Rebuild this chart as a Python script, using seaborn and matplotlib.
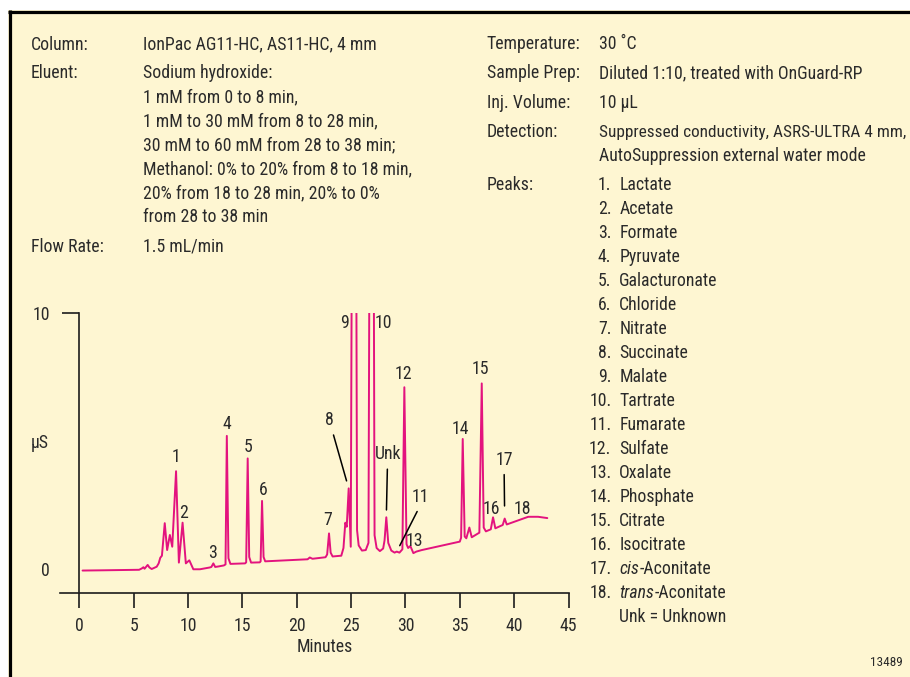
import matplotlib
matplotlib.use("Agg")
import matplotlib.pyplot as plt
from matplotlib import font_manager
from matplotlib.lines import Line2D
from matplotlib.patches import Rectangle
import pandas as pd
import seaborn as sns

# ---------------------------------------------------------------------------
# Chromatogram trace: retention time (min) and conductivity (µS)
# ---------------------------------------------------------------------------
retention_min = [
    0.30, 2.20, 5.50, 5.74, 5.90, 6.00, 6.29, 6.45, 6.66, 7.12,
    7.30, 7.45, 7.60, 7.86, 8.08, 8.33, 8.55, 8.90, 9.16, 9.50,
    9.80, 10.12, 10.49, 11.10, 12.00, 12.15, 12.33, 12.50, 12.80, 13.30,
    13.45, 13.57, 13.72, 13.90, 15.25, 15.35, 15.49, 15.63, 15.80, 16.60,
    16.68, 16.81, 16.95, 17.10, 21.00, 21.20, 21.45, 22.65, 22.80, 22.97,
    23.12, 23.30, 24.10, 24.30, 24.47, 24.60, 24.78, 24.97, 25.29, 25.55,
    25.70, 26.00, 26.35, 26.60, 26.90, 27.16, 27.35, 27.65, 27.95, 28.08,
    28.24, 28.42, 28.70, 29.00, 29.20, 29.45, 29.72, 29.90, 30.10, 30.25,
    30.45, 30.73, 31.00, 31.50, 35.00, 35.12, 35.27, 35.45, 35.60, 35.88,
    36.10, 36.80, 37.02, 37.20, 37.40, 37.85, 38.06, 38.27, 38.95, 39.13,
    39.32, 40.50, 41.30, 42.20, 43.05,
]
# malate (25.3 min) and tartrate (26.9 min) run far off scale
signal_uS = [
    -0.08, -0.07, -0.05, 0.00, 0.05, -0.01, 0.14, 0.04, -0.02, 0.07,
    0.20, 0.42, 0.50, 1.77, 0.72, 1.31, 0.85, 3.80, 0.23, 1.79,
    0.20, 0.32, -0.03, -0.03, 0.04, 0.06, 0.20, 0.06, 0.08, 0.12,
    0.16, 5.18, 0.40, 0.18, 0.20, 0.24, 4.30, 0.45, 0.23, 0.24,
    0.28, 2.64, 0.45, 0.28, 0.36, 0.43, 0.38, 0.44, 0.55, 1.37,
    0.62, 0.47, 0.50, 0.80, 1.79, 1.63, 3.13, 0.85, 40.0, 1.50,
    0.90, 0.70, 0.72, 1.00, 40.0, 1.30, 0.80, 0.68, 0.78, 1.10,
    2.00, 1.00, 0.70, 0.62, 0.66, 0.62, 0.75, 7.08, 0.95, 0.80,
    0.88, 0.60, 0.66, 0.72, 1.05, 1.20, 5.06, 1.25, 1.18, 1.60,
    1.22, 1.40, 7.23, 1.60, 1.45, 1.53, 2.00, 1.57, 1.70, 1.95,
    1.72, 1.90, 2.02, 2.02, 1.97,
]

# Peak numbers written just above their peak
peak_tags = ["1", "2", "3", "4", "5", "6", "7", "9", "10", "12", "13", "14", "15", "16", "18"]
peak_times = [8.90, 9.50, 12.33, 13.57, 15.49, 16.81, 22.97, 25.29, 26.90, 29.90, 30.45, 35.27, 37.02, 38.06, 40.80]
peak_heights = [3.80, 1.79, 0.20, 5.18, 4.30, 2.64, 1.37, 10.0, 10.0, 7.08, 0.88, 5.06, 7.23, 2.00, 1.92]

# Peak numbers joined to their peak by a leader line
leader_tags = ["8", "Unk", "11", "17"]
leader_times = [24.78, 28.24, 29.20, 39.13]
leader_heights = [3.13, 2.00, 0.66, 1.95]

x_ticks = [0, 5, 10, 15, 20, 25, 30, 35, 40, 45]
y_ticks = [0, 10]

peak_names = [
    "Lactate", "Acetate", "Formate", "Pyruvate", "Galacturonate", "Chloride",
    "Nitrate", "Succinate", "Malate", "Tartrate", "Fumarate", "Sulfate",
    "Oxalate", "Phosphate", "Citrate", "Isocitrate", "cis-Aconitate",
    "trans-Aconitate",
]
italic_prefixes = ["cis", "trans"]
unknown_note = "Unk = Unknown"

left_keys = ["Column:", "Eluent:", "Flow Rate:"]
left_values = [
    ["IonPac AG11-HC, AS11-HC, 4 mm"],
    ["Sodium hydroxide:",
     "1 mM from 0 to 8 min,",
     "1 mM to 30 mM from 8 to 28 min,",
     "30 mM to 60 mM from 28 to 38 min;",
     "Methanol: 0% to 20% from 8 to 18 min,",
     "20% from 18 to 28 min, 20% to 0%",
     "from 28 to 38 min"],
    ["1.5 mL/min"],
]
right_keys = ["Temperature:", "Sample Prep:", "Inj. Volume:", "Detection:", "Peaks:"]
right_values = [
    ["30 \u02daC"],
    ["Diluted 1:10, treated with OnGuard-RP"],
    ["10 \u00b5L"],
    ["Suppressed conductivity, ASRS-ULTRA 4 mm,",
     "AutoSuppression external water mode"],
    [],
]
figure_code = "13489"

# ---------------------------------------------------------------------------
# Styling
# ---------------------------------------------------------------------------
W, H = 910, 677
CREAM = "#FEF6D2"
TRACE = "#E3137E"
INK = "#2A2A2A"
AXIS = "#1C1C1C"
FS = 12.8


def fx(px):
    return px / W


def fy(py):
    return 1 - py / H


installed = {f.name for f in font_manager.fontManager.ttflist}
FONT = next((n for n in ["Liberation Sans Narrow", "Roboto Condensed",
                         "Arial Narrow", "Liberation Sans"] if n in installed),
            "DejaVu Sans")

sns.set_style("white")
plt.rcParams["font.family"] = [FONT, "DejaVu Sans"]
plt.rcParams["text.color"] = INK

fig = plt.figure(figsize=(W / 100, H / 100), dpi=100, facecolor="white")

# cream panel with a heavy rule along its top and left edges
fig.patches.append(Rectangle((fx(8), 0), 1 - fx(8), fy(10), transform=fig.transFigure,
                             facecolor=CREAM, edgecolor="none", zorder=-5))
fig.add_artist(Line2D([fx(9.5), fx(9.5)], [0, fy(10)], color="black", lw=2.3,
                      transform=fig.transFigure, solid_capstyle="butt", zorder=-4))
fig.add_artist(Line2D([fx(8), 1], [fy(11.5), fy(11.5)], color="black", lw=2.3,
                      transform=fig.transFigure, solid_capstyle="butt", zorder=-4))

# ---------------------------------------------------------------------------
# Chromatogram
# ---------------------------------------------------------------------------
ax = fig.add_axes([fx(60), fy(592.7), fx(568.5) - fx(60), fy(312.5) - fy(592.7)])
ax.patch.set_visible(False)

trace = pd.DataFrame({"Minutes": retention_min, "uS": signal_uS})
sns.lineplot(data=trace, x="Minutes", y="uS", ax=ax, color=TRACE, linewidth=1.4,
             estimator=None, sort=False)

ax.set_xlim(-(79.3 - 60) / 10.871, 45)
ax.set_ylim(-(592.7 - 568.5) / 25.6, 10)

for side in ("top", "right"):
    ax.spines[side].set_visible(False)
ax.spines["left"].set_position(("data", 0))
for side in ("left", "bottom"):
    ax.spines[side].set_color(AXIS)
    ax.spines[side].set_linewidth(1.2)

ax.set_xticks(x_ticks)
ax.set_yticks(y_ticks)
ax.tick_params(axis="x", bottom=True, direction="out", length=10.8, width=1.2, pad=7,
               labelsize=FS, color=AXIS, labelcolor=INK)
ax.tick_params(axis="y", left=True, direction="out", length=12.2, width=1.2, pad=9,
               labelsize=FS, color=AXIS, labelcolor=INK)
ax.yaxis.get_major_ticks()[0].tick1line.set_visible(False)

ax.set_xlabel("Minutes", fontsize=FS, color=INK, va="baseline")
ax.xaxis.set_label_coords((325 - 60) / 508.5, (592.7 - 652.2) / 280.2)
ax.set_ylabel("\u00b5S", fontsize=FS, color=INK, rotation=0, va="baseline", ha="center")
ax.yaxis.set_label_coords((40 - 60) / 508.5, (592.7 - 447.9) / 280.2)

# offsets (points) from each peak apex to the centre of its number
tag_offsets = {
    "1": (0, 10.4), "2": (0.5, 7.3), "3": (-0.7, 7.6), "4": (0, 8.5),
    "5": (0.4, 8.3), "6": (0.7, 8.2), "7": (-0.9, 9.6), "9": (-7.3, -7.2),
    "10": (8.4, -7.9), "12": (-0.7, 9.2), "13": (2.9, 3.5), "14": (-1.4, 7.1),
    "15": (-1.0, 10.3), "16": (-1.4, 6.3), "18": (0, 7.3),
}
for tag, t, h in zip(peak_tags, peak_times, peak_heights):
    ax.annotate(tag, xy=(t, h), xytext=tag_offsets[tag], textcoords="offset points",
                ha="center", va="center", fontsize=FS, color=INK,
                annotation_clip=False)

leader_offsets = {"8": (-14, 49.2), "Unk": (1, 45.5), "11": (16.8, 39.5), "17": (-0.5, 42.5)}
leader_shrink = {"8": 5.6, "Unk": 5.3, "11": 4.8, "17": 9.1}
leader_relpos = {"8": (0.5, 0.5), "Unk": (0.5, 0.5), "11": (0.5, 0.0), "17": (0.5, 0.5)}
for tag, t, h in zip(leader_tags, leader_times, leader_heights):
    ax.annotate(tag, xy=(t, h), xytext=leader_offsets[tag], textcoords="offset points",
                ha="center", va="center", fontsize=FS, color=INK,
                annotation_clip=False,
                arrowprops=dict(arrowstyle="-", color="black", lw=1.1, shrinkA=2,
                                shrinkB=leader_shrink[tag], relpos=leader_relpos[tag]))

# ---------------------------------------------------------------------------
# Conditions block
# ---------------------------------------------------------------------------
CAP = 6.2  # half cap height in px: centre line -> baseline


def put(px, py_centre, s, size=FS, **kw):
    return fig.text(fx(px), fy(py_centre + CAP), s, fontsize=size, color=INK,
                    va="baseline", **kw)


for key, lines, yc in zip(left_keys, left_values, [43.5, 72.0, 245.5]):
    put(30.7, yc, key)
    for i, line in enumerate(lines):
        put(142.7, yc + 24.0 * i, line)

renderer = fig.canvas.get_renderer()
for key, lines, yc in zip(right_keys, right_values, [42.7, 71.7, 101.7, 130.7, 183.5]):
    put(486.7, yc, key)
    for i, line in enumerate(lines):
        t_line = put(598.7, yc + 24.3 * i, line)
        # keep the longest detection line inside the panel
        while t_line.get_window_extent(renderer).x1 > W - 2:
            t_line.set_fontsize(t_line.get_fontsize() - 0.1)

for i, name in enumerate(peak_names):
    yc = 183.5 + 24.0 * i
    put(611.5, yc, f"{i + 1}.", ha="right")
    prefix, _, rest = name.partition("-")
    if prefix in italic_prefixes:
        t_it = put(619.3, yc, prefix, style="italic")
        x_end = t_it.get_window_extent(renderer).x1
        put(x_end, yc, "-" + rest)
    else:
        put(619.3, yc, name)
put(619.3, 183.5 + 24.0 * len(peak_names), unknown_note)

fig.text(fx(903), fy(666.4), figure_code, fontsize=9.5, color=INK,
         ha="right", va="baseline")

fig.savefig("out.png", dpi=100, facecolor=fig.get_facecolor())
